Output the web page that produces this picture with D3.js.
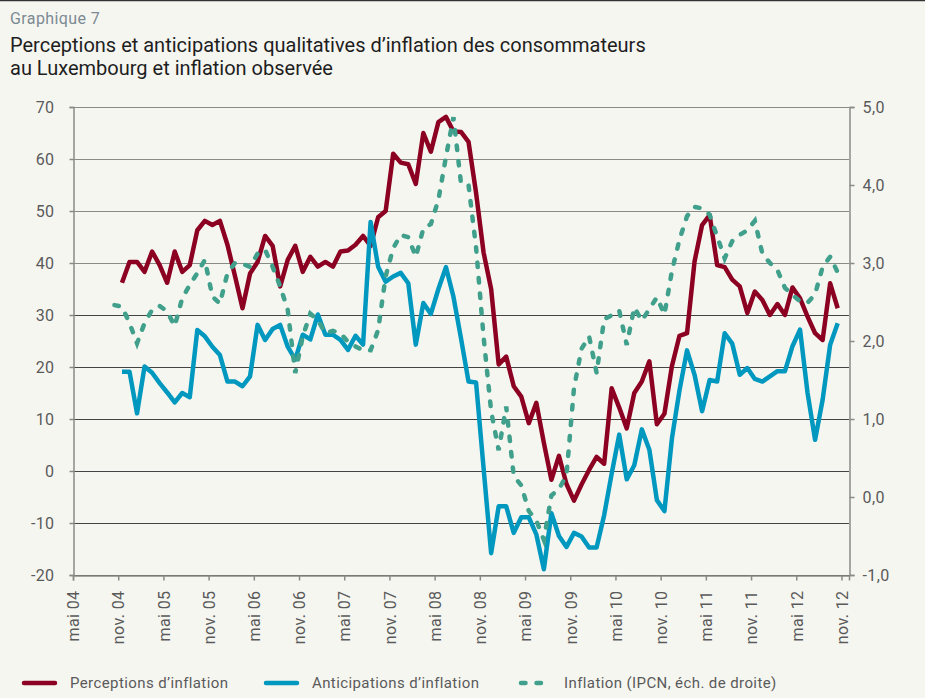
<!DOCTYPE html>
<html>
<head>
<meta charset="utf-8">
<script src="https://cdn.jsdelivr.net/npm/d3@7"></script>
<style>
  html, body { margin: 0; padding: 0; background: #f6f6f1; }
  svg { display: block; font-family: Roboto, "Open Sans", sans-serif; }
</style>
</head>
<body>
<div id="chart"></div>
<script>
// --- data (monthly, index 0 = mai 04) ---
const monthCount = 103; // mai 04 .. nov. 12
const tickLabels = ['mai 04', 'nov. 04', 'mai 05', 'nov. 05', 'mai 06', 'nov. 06',
  'mai 07', 'nov. 07', 'mai 08', 'nov. 08', 'mai 09', 'nov. 09', 'mai 10', 'nov. 10',
  'mai 11', 'nov. 11', 'mai 12', 'nov. 12'];

// Perceptions d'inflation (solde, échelle de gauche), nov. 04 .. oct. 12
const perceptionsStart = 6;
const perceptions = [
  36.2, 40.2, 40.2, 38.3, 42.2, 39.6, 36.2, 42.2, 38.3, 39.6,
  46.3, 48.1, 47.3, 48.1, 43.5, 37.5, 31.3, 38.0, 40.2, 45.2,
  43.3, 35.5, 40.6, 43.3, 38.3, 41.2, 39.3, 40.2, 39.3, 42.2,
  42.4, 43.5, 45.2, 43.3, 48.8, 50.0, 61.0, 59.3, 59.0, 55.2,
  65.0, 61.4, 67.1, 68.1, 65.3, 65.2, 63.3, 53.5, 42.0, 35.0,
  20.5, 22.0, 16.3, 14.3, 9.2, 13.1, 5.4, -1.7, 2.9, -2.5,
  -5.7, -2.6, 0.2, 2.7, 1.4, 15.9, 12.2, 8.2, 15.0, 17.2,
  21.1, 9.0, 11.0, 20.2, 26.0, 26.5, 40.3, 47.3, 49.2, 39.6,
  39.2, 36.8, 35.5, 30.4, 34.5, 32.9, 30.0, 32.1, 30.0, 35.3,
  33.2, 29.7, 26.5, 25.2, 36.1, 31.3
];

// Anticipations d'inflation (solde, échelle de gauche), nov. 04 .. oct. 12
const anticipationsStart = 6;
const anticipations = [
  19.1, 19.1, 11.1, 20.1, 18.9, 16.9, 15.1, 13.2, 15.0, 14.2,
  27.1, 25.9, 23.9, 22.3, 17.2, 17.2, 16.3, 18.2, 28.1, 25.2,
  27.3, 28.1, 23.9, 21.4, 26.2, 25.3, 30.1, 26.2, 26.2, 25.2,
  23.3, 26.0, 24.3, 47.9, 39.3, 36.4, 37.4, 38.1, 36.1, 24.3,
  32.3, 30.2, 35.0, 39.2, 33.5, 25.5, 17.2, 17.0, 0.5, -15.8,
  -6.8, -6.8, -11.9, -8.9, -8.9, -12.2, -18.9, -8.1, -12.5, -14.6,
  -11.9, -12.6, -14.7, -14.7, -8.5, -0.5, 7.0, -1.6, 1.1, 8.0,
  4.1, -5.6, -7.7, 6.3, 15.5, 23.2, 18.5, 11.5, 17.5, 17.2,
  26.5, 24.5, 18.5, 19.8, 17.7, 17.2, 18.2, 19.2, 19.2, 24.0,
  27.2, 15.0, 6.0, 13.7, 24.3, 28.4
];

// Inflation IPCN (%, échelle de droite), oct. 04 .. oct. 12
const inflationStart = 5;
const inflation = [
  2.46, 2.44, 2.23, 1.97, 2.23, 2.40, 2.45, 2.38, 2.19, 2.55,
  2.72, 2.87, 3.04, 2.57, 2.48, 2.87, 3.00, 2.99, 2.95, 3.12,
  3.17, 2.95, 2.70, 2.40, 1.59, 2.06, 2.35, 2.27, 2.10, 2.13,
  2.10, 1.99, 1.93, 1.88, 1.88, 2.14, 2.83, 3.19, 3.36, 3.33,
  3.08, 3.44, 3.50, 3.81, 4.36, 4.87, 4.02, 4.00, 3.20, 2.05,
  1.10, 0.60, 1.16, 0.27, 0.15, -0.18, -0.30, -0.55, 0.02, 0.10,
  0.28, 1.40, 1.90, 2.06, 1.59, 2.28, 2.33, 2.39, 1.95, 2.43,
  2.26, 2.41, 2.56, 2.34, 2.90, 3.30, 3.60, 3.72, 3.70, 3.62,
  3.34, 3.06, 3.28, 3.36, 3.42, 3.54, 3.12, 3.00, 2.91, 2.68,
  2.59, 2.51, 2.49, 2.60, 2.95, 3.08, 2.88
];

const leftTicks = [-20, -10, 0, 10, 20, 30, 40, 50, 60, 70];
const rightTicks = [-1, 0, 1, 2, 3, 4, 5];

const colours = { perceptions: '#8c0022', anticipations: '#0098bf', inflation: '#40a08b' };

// --- layout ---
const W = 925, H = 698;
const plot = { left: 73, right: 849, top: 107, bottom: 575 };

const svg = d3.select('#chart').append('svg')
  .attr('width', W).attr('height', H);

svg.append('rect').attr('width', W).attr('height', H).attr('fill', '#f6f6f1');
svg.append('line').attr('x1', 0).attr('x2', W).attr('y1', 0.5).attr('y2', 0.5)
  .attr('stroke', '#333').attr('stroke-width', 1.5);

// titles
svg.append('text').attr('x', 10).attr('y', 24).text('Graphique 7')
  .attr('fill', '#7b8a93').style('font-size', '16px').style('letter-spacing', '0.4px');
svg.append('text').attr('x', 10).attr('y', 52)
  .text('Perceptions et anticipations qualitatives d\u2019inflation des consommateurs')
  .attr('fill', '#1e1e1e').style('font-size', '20px');
svg.append('text').attr('x', 10).attr('y', 75)
  .text('au Luxembourg et inflation observée')
  .attr('fill', '#1e1e1e').style('font-size', '20px');

// scales
const x = d3.scaleLinear().domain([0, monthCount]).range([plot.left, plot.right]);
const yL = d3.scaleLinear().domain([-20, 70]).range([plot.bottom, plot.top]);
const yR = d3.scaleLinear().domain([-1, 5]).range([plot.bottom, plot.top]);

// gridlines
svg.append('g').selectAll('line')
  .data(leftTicks)
  .enter().append('line')
    .attr('x1', plot.left).attr('x2', plot.right)
    .attr('y1', d => Math.round(yL(d)) + 0.5).attr('y2', d => Math.round(yL(d)) + 0.5)
    .attr('stroke', d => d >= 40 ? '#8a8a86' : '#444')
    .attr('stroke-width', 1);

// axes
const axisColour = '#8a8a86';
const labelColour = '#5a5a5a';

const gLeft = svg.append('g')
  .attr('transform', `translate(${plot.left + 0.5},0)`)
  .call(d3.axisLeft(yL).tickValues(leftTicks).tickSizeOuter(0).tickSize(4).tickPadding(15));

const gRight = svg.append('g')
  .attr('transform', `translate(${plot.right + 0.5},0)`)
  .call(d3.axisRight(yR).tickValues(rightTicks).tickSizeOuter(0).tickSize(5).tickPadding(8)
    .tickFormat(d => d3.format('.1f')(d).replace('.', ',').replace('\u2212', '-')));

const gBottom = svg.append('g')
  .attr('transform', `translate(0,${plot.bottom + 0.5})`)
  .call(d3.axisBottom(x).tickValues(d3.range(0, monthCount, 6)).tickSizeOuter(0).tickSize(5)
    .tickFormat((d, i) => tickLabels[i]));

gBottom.selectAll('text')
  .attr('transform', 'rotate(-90)')
  .attr('text-anchor', 'end')
  .attr('x', -15).attr('y', 0).attr('dy', '0.36em');

[gLeft, gRight, gBottom].forEach(g => {
  g.select('.domain').attr('stroke', axisColour).attr('stroke-width', 1.5);
  g.selectAll('.tick line').attr('stroke', axisColour).attr('stroke-width', 1.5);
  g.selectAll('text').attr('fill', labelColour).style('font-size', '16px')
    .style('letter-spacing', '0.4px')
    .style('font-family', 'Roboto, sans-serif');
});
gLeft.selectAll('text').text(d => String(d));

// series
const seriesLine = (start, y) => d3.line()
  .x((d, k) => x(start + k + 0.5))
  .y(d => y(d));

svg.append('path')
  .datum(perceptions)
  .attr('d', seriesLine(perceptionsStart, yL))
  .attr('fill', 'none').attr('stroke', colours.perceptions)
  .attr('stroke-width', 4.5).attr('stroke-linejoin', 'round');

svg.append('path')
  .datum(anticipations)
  .attr('d', seriesLine(anticipationsStart, yL))
  .attr('fill', 'none').attr('stroke', colours.anticipations)
  .attr('stroke-width', 4.5).attr('stroke-linejoin', 'round');

svg.append('path')
  .datum(inflation)
  .attr('d', seriesLine(inflationStart, yR))
  .attr('fill', 'none').attr('stroke', colours.inflation)
  .attr('stroke-width', 4.5).attr('stroke-linecap', 'round')
  .attr('stroke-dasharray', '4.5,11');

// legend
const legendItems = [
  { label: 'Perceptions d\u2019inflation', colour: colours.perceptions, x: 22, dash: null },
  { label: 'Anticipations d\u2019inflation', colour: colours.anticipations, x: 264, dash: null },
  { label: 'Inflation (IPCN, éch. de droite)', colour: colours.inflation, x: 519, dash: '4.5,11' }
];
const legend = svg.append('g').selectAll('g')
  .data(legendItems)
  .enter().append('g')
    .attr('transform', d => `translate(${d.x},683)`);
legend.append('line')
  .attr('x1', 2).attr('x2', d => d.dash ? 24 : 33)
  .attr('stroke', d => d.colour).attr('stroke-width', 4.5)
  .attr('stroke-linecap', 'round')
  .attr('stroke-dasharray', d => d.dash);
legend.append('text')
  .attr('x', d => d.dash ? 45 : 48).attr('y', 5)
  .text(d => d.label)
  .attr('fill', labelColour).style('font-size', '15px').style('letter-spacing', '0.4px');
</script>
</body>
</html>
